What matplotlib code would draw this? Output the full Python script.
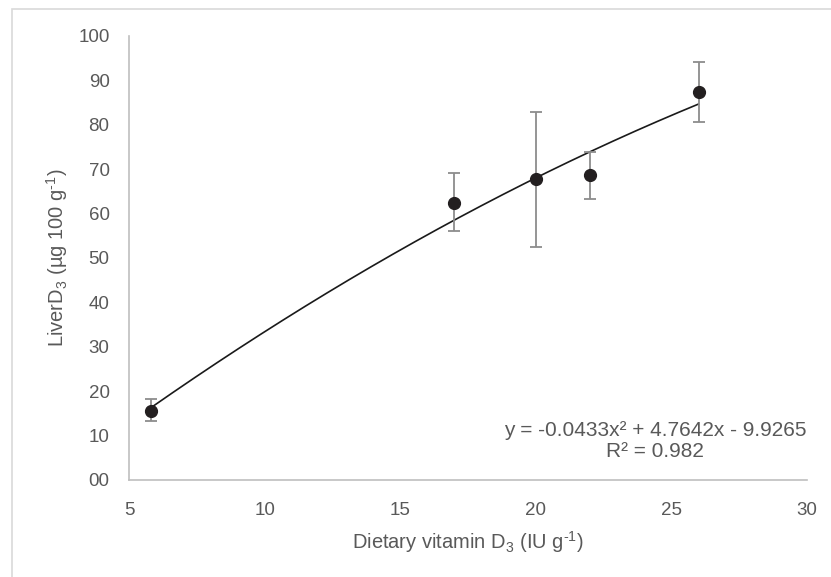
import numpy as np
import matplotlib
matplotlib.use("Agg")
import matplotlib.pyplot as plt
from matplotlib.patches import Rectangle

plt.rcParams['font.family'] = ['Liberation Sans', 'DejaVu Sans']
plt.rcParams['mathtext.fontset'] = 'custom'
plt.rcParams['mathtext.rm'] = 'Liberation Sans'
plt.rcParams['mathtext.it'] = 'Liberation Sans:italic'

# data
dose = [5.8, 17, 20, 22, 26]
liver = [15.6, 62.5, 67.7, 68.7, 87.4]
err_lo = [2.4, 6.4, 15.3, 5.3, 6.7]
err_hi = [2.6, 6.6, 15.2, 5.2, 6.7]

# trendline coefficients (as printed on the chart)
coef = [-0.0433, 4.7642, -9.9265]
r2 = 0.982

xticks = [5, 10, 15, 20, 25, 30]
yticks = [0, 10, 20, 30, 40, 50, 60, 70, 80, 90, 100]

grey = '#595959'

fig = plt.figure(figsize=(8.31, 5.77), dpi=100)
# light outer frame
fig.patches.append(Rectangle((12 / 831, -0.2), 1.2, 1.2 - 9 / 577, transform=fig.transFigure,
                             fill=False, edgecolor='#d9d9d9', linewidth=1.2))
ax = fig.add_axes([129 / 831, 97 / 577, 678 / 831, 444 / 577])

xs = np.linspace(min(dose), max(dose), 200)
ax.plot(xs, np.polyval(coef, xs), color='#1a1a1a', lw=1.2, zorder=2)
ax.errorbar(dose, liver, yerr=[err_lo, err_hi], fmt='none', ecolor='#8c8c8c',
            elinewidth=1.3, capsize=4, capthick=1.3, zorder=3)
ax.plot(dose, liver, 'o', color='#231f20', markersize=8.5, zorder=4)

ax.set_xlim(5, 30)
ax.set_ylim(0, 100)
ax.set_xticks(xticks)
ax.set_yticks(yticks)
ax.set_yticklabels([f'{v:02d}' for v in yticks])
ax.tick_params(length=0, labelsize=13.5, labelcolor=grey)
ax.tick_params(axis='y', pad=14)
ax.tick_params(axis='x', pad=16)
for s in ['top', 'right']:
    ax.spines[s].set_visible(False)
for s in ['left', 'bottom']:
    ax.spines[s].set_color('#bfbfbf')
    ax.spines[s].set_linewidth(1.2)

ax.set_xlabel('Dietary vitamin D$_\\mathregular{3}$ (IU g$^\\mathregular{\u20101}$)',
              fontsize=14.5, color=grey, labelpad=7)
ax.set_ylabel('LiverD$_\\mathregular{3}$ (µg 100 g$^\\mathregular{\u20101}$)',
              fontsize=14.5, color=grey, labelpad=6)

eq = f'y = {coef[0]}x² + {coef[1]}x - {abs(coef[2])}\nR² = {r2}'
fig.text(655 / 831, 1 - 441 / 577, eq, ha='center', va='center',
         fontsize=15, color=grey, linespacing=1.1)

fig.savefig('out.png', dpi=100)
